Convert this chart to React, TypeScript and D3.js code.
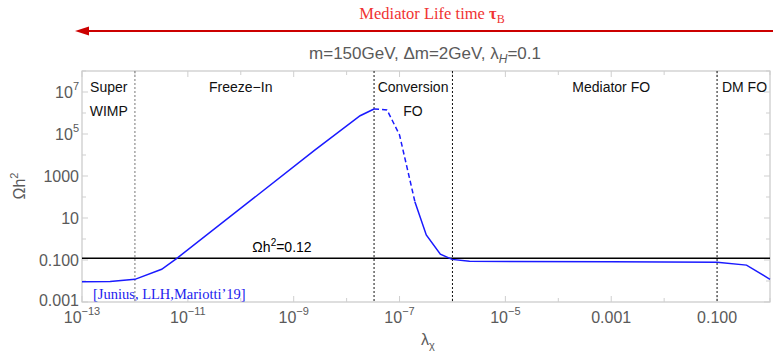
import { useEffect, useRef } from "react";
import * as d3 from "d3";

// relic abundance vs lambda_chi
const lambdaChi = [
  1e-13, 3.4e-13, 1e-12, 3.2e-12, 6.2e-12, 1.5e-10, 2.5e-9, 1.8e-8, 3.3e-8,
  5.8e-8, 1.0e-7, 1.95e-7, 3.2e-7, 5.9e-7, 9.8e-7, 2.1e-6, 1e-3, 0.1, 0.36, 1.0,
];
const omegaH2 = [
  0.0091, 0.0095, 0.012, 0.036, 0.12, 65, 1.7e4, 7.4e5, 1.55e6,
  1.4e6, 9e4, 60, 1.55, 0.19, 0.107, 0.087, 0.083, 0.078, 0.057, 0.012,
];
// indices of the dashed (conversion FO) piece
const dashedStart = 8;
const dashedEnd = 11;

const regionBounds = [1e-12, 3.3e-8, 1e-6, 0.1];
const regionLabels = [
  { lines: ["Super", "WIMP"], at: 3.2e-13 },
  { lines: ["Freeze\u2212In"], at: 1e-10 },
  { lines: ["Conversion", "FO"], at: 1.8e-7 },
  { lines: ["Mediator FO"], at: 1e-3 },
  { lines: ["DM FO"], at: 0.33 },
];
const relicValue = 0.12;

const xTicks = [1e-13, 1e-11, 1e-9, 1e-7, 1e-5, 1e-3, 0.1];
const xTickLabels: [string, string][] = [
  ["10", "\u221213"], ["10", "\u221211"], ["10", "\u22129"], ["10", "\u22127"],
  ["10", "\u22125"], ["0.001", ""], ["0.100", ""],
];
const yTicks = [1e7, 1e5, 1000, 10, 0.1, 0.001];
const yTickLabels: [string, string][] = [
  ["10", "7"], ["10", "5"], ["1000", ""], ["10", ""], ["0.100", ""], ["0.001", ""],
];

const W = 773;
const H = 355;
const sans = "'Liberation Sans', Arial, sans-serif";
const serif = "'Liberation Serif', 'Times New Roman', serif";

export default function App() {
  const ref = useRef<SVGSVGElement>(null);

  useEffect(() => {
    document.body.style.margin = "0";
    const svg = d3.select(ref.current);
    svg.selectAll("*").remove();

    const left = 82, right = 770, top = 71, bottom = 302;
    const x = d3.scaleLog().domain([1e-13, 1]).range([left, right]);
    const y = d3.scaleLog().domain([1e-3, 1e8]).range([bottom, top]);

    // top annotation: lifetime arrow
    const red = svg.append("text")
      .attr("x", 432).attr("y", 19)
      .attr("text-anchor", "middle")
      .style("font-family", serif).style("font-size", "16.5px")
      .attr("fill", "#f03333");
    red.append("tspan").text("Mediator Life time ");
    red.append("tspan").attr("font-weight", "bold").text("\u03c4");
    red.append("tspan").attr("dy", 4).style("font-size", "12px").text("B");

    svg.append("line")
      .attr("x1", W).attr("x2", 86).attr("y1", 31).attr("y2", 31)
      .attr("stroke", "#cc0000").attr("stroke-width", 2);
    svg.append("path")
      .attr("d", "M75,31 L89,26.5 L89,35.5 Z")
      .attr("fill", "#cc0000");

    const sub = svg.append("text")
      .attr("x", 425).attr("y", 59)
      .attr("text-anchor", "middle")
      .style("font-family", sans).style("font-size", "17px")
      .attr("fill", "#5a5a5a");
    sub.append("tspan").text("m=150GeV, \u0394m=2GeV, \u03bb");
    sub.append("tspan").attr("dy", 4).style("font-size", "12px")
      .attr("font-style", "italic").text("H");
    sub.append("tspan").attr("dy", -4).text("=0.1");

    // frame
    svg.append("rect")
      .attr("x", left).attr("y", top)
      .attr("width", right - left).attr("height", bottom - top)
      .attr("fill", "none").attr("stroke", "#bdbdbd").attr("stroke-width", 1);

    const ticks = svg.append("g").attr("stroke", "#cfcfcf").attr("stroke-width", 1);
    for (let e = -13; e <= 0; e++) {
      const len = (e + 13) % 2 === 0 ? 6 : 4;
      const px = x(Math.pow(10, e));
      ticks.append("line").attr("x1", px).attr("x2", px).attr("y1", bottom).attr("y2", bottom - len);
      ticks.append("line").attr("x1", px).attr("x2", px).attr("y1", top).attr("y2", top + len);
    }
    for (let e = -3; e <= 8; e++) {
      const len = (e + 3) % 2 === 0 ? 6 : 4;
      const py = y(Math.pow(10, e));
      ticks.append("line").attr("x1", left).attr("x2", left + len).attr("y1", py).attr("y2", py);
      ticks.append("line").attr("x1", right).attr("x2", right - len).attr("y1", py).attr("y2", py);
    }

    // tick labels
    xTicks.forEach((t, i) => {
      const [base, exp] = xTickLabels[i];
      const tx = svg.append("text")
        .attr("x", x(t)).attr("y", 323)
        .attr("text-anchor", "middle")
        .style("font-family", sans).style("font-size", "16px")
        .attr("fill", "#5a5a5a");
      tx.append("tspan").text(base);
      if (exp) tx.append("tspan").attr("dy", -8).style("font-size", "11px").text(exp);
    });
    yTicks.forEach((t, i) => {
      const [base, exp] = yTickLabels[i];
      const ty = svg.append("text")
        .attr("x", 79).attr("y", y(t) + (i === yTicks.length - 1 ? 4 : 6))
        .attr("text-anchor", "end")
        .style("font-family", sans).style("font-size", "16px")
        .attr("fill", "#5a5a5a");
      ty.append("tspan").text(base);
      if (exp) ty.append("tspan").attr("dy", -8).style("font-size", "11px").text(exp);
    });

    // axis titles
    const yl = svg.append("text")
      .attr("transform", "translate(25,186) rotate(-90)")
      .attr("text-anchor", "middle")
      .style("font-family", sans).style("font-size", "16px")
      .attr("fill", "#5a5a5a");
    yl.append("tspan").text("\u03a9h");
    yl.append("tspan").attr("dy", -7).style("font-size", "11px").text("2");

    const xl = svg.append("text")
      .attr("x", 428).attr("y", 345)
      .attr("text-anchor", "middle")
      .style("font-family", sans).style("font-size", "16px")
      .attr("fill", "#5a5a5a");
    xl.append("tspan").text("\u03bb");
    xl.append("tspan").attr("dy", 4).style("font-size", "11px").text("\u03c7");

    // region boundaries
    regionBounds.forEach((b, i) => {
      svg.append("line")
        .attr("x1", x(b)).attr("x2", x(b)).attr("y1", top).attr("y2", bottom)
        .attr("stroke", i === 0 ? "#777" : "#111")
        .attr("stroke-width", 1).attr("stroke-dasharray", "2,2");
    });
    regionLabels.forEach((r) => {
      r.lines.forEach((ln, j) => {
        svg.append("text")
          .attr("x", x(r.at)).attr("y", 92 + j * 24)
          .attr("text-anchor", "middle")
          .style("font-family", sans).style("font-size", "14px")
          .attr("fill", "#111").text(ln);
      });
    });

    // relic line
    svg.append("line")
      .attr("x1", left).attr("x2", right)
      .attr("y1", y(relicValue)).attr("y2", y(relicValue))
      .attr("stroke", "#000").attr("stroke-width", 1.5);
    const rl = svg.append("text")
      .attr("x", 282).attr("y", 252)
      .attr("text-anchor", "middle")
      .style("font-family", sans).style("font-size", "14px")
      .attr("fill", "#000");
    rl.append("tspan").text("\u03a9h");
    rl.append("tspan").attr("dy", -6).style("font-size", "10px").text("2");
    rl.append("tspan").attr("dy", 6).text("=0.12");

    // curve
    const pts = lambdaChi.map((l, i) => [l, omegaH2[i]] as [number, number]);
    const line = d3.line<[number, number]>().x((d) => x(d[0])).y((d) => y(d[1]));
    const pieces = [
      { d: pts.slice(0, dashedStart + 1), dash: null },
      { d: pts.slice(dashedStart, dashedEnd + 1), dash: "5,3" },
      { d: pts.slice(dashedEnd), dash: null },
    ];
    pieces.forEach((p) => {
      svg.append("path")
        .attr("d", line(p.d))
        .attr("fill", "none").attr("stroke", "#1a1aff")
        .attr("stroke-width", 1.5)
        .attr("stroke-dasharray", p.dash);
    });

    svg.append("text")
      .attr("x", 93).attr("y", 299)
      .style("font-family", serif).style("font-size", "14.5px")
      .attr("fill", "#2222ee")
      .text("[Junius, LLH,Mariotti\u201919]");
  }, []);

  return <svg ref={ref} width={W} height={H} style={{ display: "block" }} />;
}
